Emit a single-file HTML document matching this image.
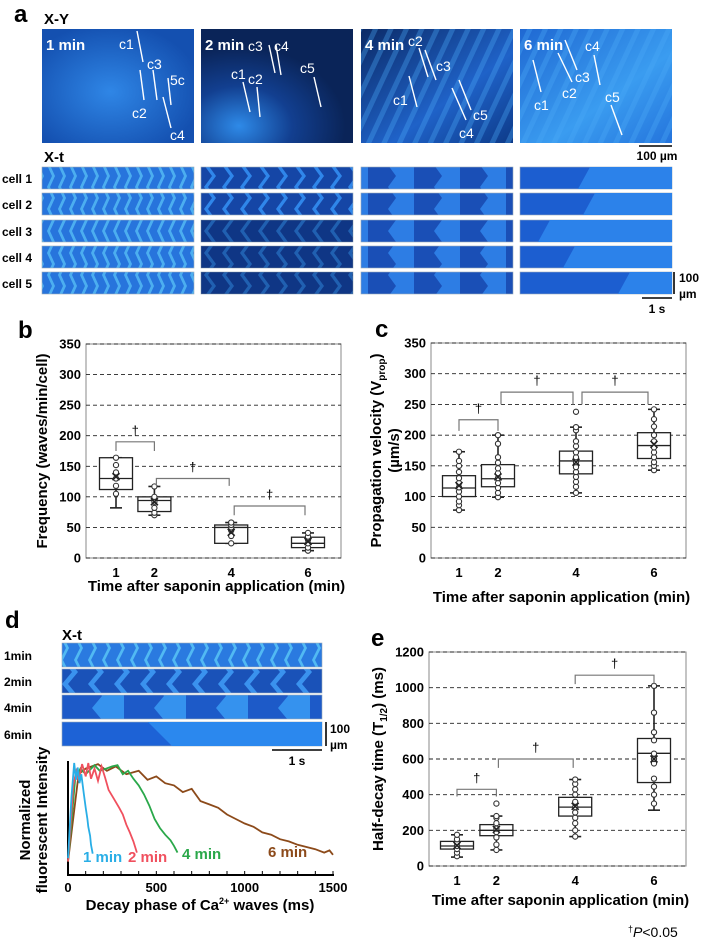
<!DOCTYPE html>
<html><head><meta charset="utf-8">
<style>
html,body{margin:0;padding:0;background:#fff;}
body{width:704px;height:944px;overflow:hidden;font-family:"Liberation Sans",Arial,sans-serif;}
svg text{font-family:"Liberation Sans",Arial,sans-serif;}
</style></head>
<body>
<svg id="fig" width="704" height="944" viewBox="0 0 704 944" xmlns="http://www.w3.org/2000/svg">
<defs>
  <radialGradient id="g1" cx="0.45" cy="0.55" r="0.6"><stop offset="0" stop-color="#2f86e6"/><stop offset="1" stop-color="#1450b0"/></radialGradient>
  <radialGradient id="g2" cx="0.25" cy="0.85" r="0.7"><stop offset="0" stop-color="#2e8ae8"/><stop offset="0.5" stop-color="#123f90"/><stop offset="1" stop-color="#0a2458"/></radialGradient>
  <linearGradient id="g3" x1="0" y1="0" x2="1" y2="1"><stop offset="0" stop-color="#0b2a66"/><stop offset="0.6" stop-color="#1f62c8"/><stop offset="1" stop-color="#0d3a88"/></linearGradient>
  <linearGradient id="g4" x1="0" y1="0" x2="1" y2="1"><stop offset="0" stop-color="#1f68d2"/><stop offset="0.6" stop-color="#3a9cf0"/><stop offset="1" stop-color="#2474dc"/></linearGradient>
  <pattern id="streak" width="14" height="14" patternUnits="userSpaceOnUse" patternTransform="rotate(25)"><rect width="14" height="14" fill="none"/><rect width="5" height="14" fill="#4aa8f5" opacity="0.35"/></pattern>
  <pattern id="xt1" width="11" height="22" patternUnits="userSpaceOnUse"><rect width="11" height="22" fill="#2774dc"/><path d="M8 0 L3 11 L8 22 L11 22 L6 11 L11 0Z" fill="#55bdf5" opacity="0.8"/></pattern>
  <pattern id="xt2" width="18" height="22" patternUnits="userSpaceOnUse"><rect width="18" height="22" fill="#1546a6"/><path d="M14 0 L6 11 L14 22 L18 22 L10 11 L18 0Z" fill="#2f86ea"/></pattern>
  <pattern id="xt3" width="46" height="22" patternUnits="userSpaceOnUse"><rect width="46" height="22" fill="#1a4fb6"/><path d="M28 0 L20 11 L28 22 L46 22 L46 0Z" fill="#2d7de4"/></pattern>
  <pattern id="xt1d" width="14" height="24" patternUnits="userSpaceOnUse"><rect width="14" height="24" fill="#2a7ae0"/><path d="M10 0 L4 12 L10 24 L13 24 L7 12 L13 0Z" fill="#58c4f7" opacity="0.85"/></pattern>
  <pattern id="xt2d" width="26" height="24" patternUnits="userSpaceOnUse"><rect width="26" height="24" fill="#1a52b8"/><path d="M20 0 L10 12 L20 24 L26 24 L16 12 L26 0Z" fill="#3a92ee"/></pattern>
  <pattern id="xt3d" width="62" height="24" patternUnits="userSpaceOnUse"><rect width="62" height="24" fill="#1d5ac8"/><path d="M40 0 L30 12 L40 24 L62 24 L62 0Z" fill="#3592ee"/></pattern>
</defs>
<g id="panelA"></g>
<g id="panelB"></g>
<g id="panelC"></g>
<g id="panelD"></g>
<g id="panelE"></g>
</svg>
<script>
// ---------- data ----------
const minutes = [1, 2, 4, 6];
// panel b: frequency (waves/min/cell)
const bQ1 = [112, 76, 24, 17];
const bMed = [130, 94, 50, 24];
const bQ3 = [164, 100, 54, 34];
const bLo = [82, 70, 24, 12];
const bHi = [164, 117, 58, 41];
const bMean = [133, 92, 42, 27];
const bPts = [[105, 118, 130, 140, 152, 164], [70, 74, 82, 92, 100, 117], [24, 36, 45, 50, 54, 58], [12, 17, 24, 30, 35, 41]];
const bTicks = [0, 50, 100, 150, 200, 250, 300, 350];
// panel c: propagation velocity (um/s)
const cQ1 = [100, 116, 137, 162];
const cMed = [114, 129, 158, 183];
const cQ3 = [134, 152, 174, 204];
const cLo = [78, 99, 106, 143];
const cHi = [173, 200, 213, 242];
const cMean = [118, 132, 156, 185];
const cPts = [[78, 86, 92, 100, 108, 115, 122, 130, 140, 150, 158, 173], [99, 106, 114, 122, 130, 138, 146, 155, 164, 186, 200], [106, 116, 124, 132, 140, 148, 156, 164, 172, 182, 190, 208, 213, 238], [143, 150, 156, 164, 172, 180, 190, 200, 214, 226, 242]];
const cTicks = [0, 50, 100, 150, 200, 250, 300, 350];
// panel e: half-decay time (ms)
const eQ1 = [95, 170, 280, 468];
const eMed = [112, 200, 330, 632];
const eQ3 = [138, 232, 385, 715];
const eLo = [50, 90, 165, 313];
const eHi = [175, 280, 485, 1010];
const eMean = [115, 205, 335, 600];
const ePts = [[55, 75, 95, 112, 130, 150, 175], [90, 120, 160, 190, 210, 240, 270, 280, 350], [165, 200, 240, 270, 300, 330, 360, 400, 430, 460, 485], [350, 400, 445, 490, 575, 600, 630, 705, 750, 860, 1010]];
const eTicks = [0, 200, 400, 600, 800, 1000, 1200];
// panel d: decay curves (ms, normalized intensity)
const dT1 = [0, 20, 35, 45, 55, 65, 75, 90, 100, 110, 115, 125, 130, 140];
const dV1 = [0.15, 0.7, 1.0, 0.85, 0.96, 0.82, 0.9, 0.72, 0.6, 0.5, 0.43, 0.35, 0.27, 0.19];
const dT2 = [0, 30, 50, 60, 80, 100, 115, 130, 150, 170, 190, 210, 230, 260, 290, 310, 330, 350, 370, 390];
const dV2 = [0.12, 0.8, 0.95, 0.84, 0.99, 0.88, 1.0, 0.86, 0.95, 0.84, 0.97, 0.87, 0.76, 0.68, 0.6, 0.54, 0.45, 0.38, 0.3, 0.2];
const dT3 = [0, 40, 70, 100, 150, 180, 200, 250, 280, 310, 340, 370, 400, 430, 460, 490, 520, 550, 580, 600, 620];
const dV3 = [0.12, 0.85, 0.95, 0.9, 0.98, 0.93, 0.94, 0.97, 0.98, 0.9, 0.93, 0.86, 0.8, 0.72, 0.62, 0.5, 0.42, 0.36, 0.31, 0.26, 0.2];
const dT4 = [0, 60, 100, 170, 220, 270, 330, 400, 450, 500, 550, 600, 650, 700, 750, 800, 850, 900, 950, 1000, 1050, 1100, 1150, 1200, 1250, 1300, 1350, 1400, 1450, 1480, 1500];
const dV4 = [0.12, 0.9, 0.95, 0.99, 0.93, 0.97, 0.9, 0.93, 0.85, 0.88, 0.82, 0.8, 0.74, 0.77, 0.66, 0.63, 0.6, 0.54, 0.5, 0.46, 0.43, 0.38, 0.36, 0.32, 0.3, 0.27, 0.25, 0.23, 0.2, 0.22, 0.18];
const dXTicks = [0, 500, 1000, 1500];

const NS = 'http://www.w3.org/2000/svg';
function mk(parent, tag, attrs, txt) {
  const e = document.createElementNS(NS, tag);
  for (const k in attrs) e.setAttribute(k, attrs[k]);
  if (txt !== undefined) e.textContent = txt;
  parent.appendChild(e);
  return e;
}

// ---------- panel a ----------
const A = document.getElementById('panelA');
let t = mk(A, 'text', {x: 14, y: 22, 'font-size': 24, 'font-weight': 'bold'}, 'a');


t = mk(A, 'text', {x: 44, y: 24, 'font-size': 15, 'font-weight': 'bold'}, 'X-Y');


t = mk(A, 'text', {x: 44, y: 162, 'font-size': 15, 'font-weight': 'bold'}, 'X-t');


const colX = [42, 201, 361, 520];
const colW = 152;
const xyFills = ['url(#g1)', 'url(#g2)', 'url(#g3)', 'url(#g4)'];
const xyTimes = ['1 min', '2 min', '4 min', '6 min'];
for (let i = 0; i < 4; i++) {
  const r = mk(A, 'rect', {x: colX[i], y: 29, width: colW, height: 114, fill: xyFills[i]});
  
  
  if (i >= 2) mk(A, 'rect', {x: colX[i], y: 29, width: colW, height: 114, fill: 'url(#streak)'});
  const tt = mk(A, 'text', {x: colX[i] + 4, y: 50, 'font-size': 15, 'font-weight': 'bold', fill: '#fff'}, xyTimes[i]);
  
  
}
const cellLines = [
  [137,31,143,62],[140,70,144,100],[153,70,157,100],[168,78,171,105],[163,97,171,128],
  [269,45,275,73],[276,45,281,75],[314,77,321,107],[243,82,250,112],[257,87,260,117],
  [419,48,428,77],[425,50,436,80],[409,76,417,107],[459,80,471,110],[452,88,466,120],
  [594,55,600,85],[565,40,577,70],[558,53,572,82],[533,60,541,92],[611,105,622,135]
];
cellLines.forEach(l => { mk(A, 'line', {x1: l[0], y1: l[1], x2: l[2], y2: l[3], stroke: '#fff', 'stroke-width': 1.4}); });
const cellLabels = [
  [119,49,'c1'],[147,69,'c3'],[170,85,'5c'],[132,118,'c2'],[170,140,'c4'],
  [248,51,'c3'],[274,51,'c4'],[300,73,'c5'],[231,79,'c1'],[248,84,'c2'],
  [408,46,'c2'],[436,71,'c3'],[393,105,'c1'],[473,120,'c5'],[459,138,'c4'],
  [585,51,'c4'],[575,82,'c3'],[562,98,'c2'],[534,110,'c1'],[605,102,'c5']
];
cellLabels.forEach(c => { mk(A, 'text', {x: c[0], y: c[1], 'font-size': 14, fill: '#fff'}, c[2]); });
// scale bar 100 um
mk(A, 'line', {x1: 639, y1: 146, x2: 672, y2: 146, stroke: '#000', 'stroke-width': 1.6});
t = mk(A, 'text', {x: 657, y: 160, 'font-size': 12, 'font-weight': 'bold', 'text-anchor': 'middle'}, '100 µm');


// X-t strips
const rowY = [167, 193, 220, 246, 272];
const xtFill = ['url(#xt1)', 'url(#xt2)', 'url(#xt3)'];
for (let r = 0; r < 5; r++) {
  const lab = mk(A, 'text', {x: 2, y: rowY[r] + 16, 'font-size': 12, 'font-weight': 'bold'}, 'cell ' + (r + 1));
  
  
  for (let c = 0; c < 4; c++) {
    const g = mk(A, 'g', {});
    
    
    if (c < 3) {
      mk(g, 'rect', {x: colX[c], y: rowY[r], width: colW, height: 22, fill: xtFill[c], stroke: '#9ab', 'stroke-width': 0.6});
      if (c === 1 && r >= 2) mk(g, 'rect', {x: colX[c], y: rowY[r], width: colW, height: 22, fill: '#061a48', opacity: 0.35});
    } else {
      mk(g, 'rect', {x: colX[c], y: rowY[r], width: colW, height: 22, fill: '#1c5ed0', stroke: '#9ab', 'stroke-width': 0.6});
      const sx = colX[c] + [70, 75, 30, 55, 110][r];
      mk(g, 'path', {d: `M${sx} ${rowY[r]} L${sx - 12} ${rowY[r] + 22} L${colX[c] + colW} ${rowY[r] + 22} L${colX[c] + colW} ${rowY[r]}Z`, fill: '#2c82ea'});
    }
  }
}
mk(A, 'line', {x1: 674, y1: 272, x2: 674, y2: 294, stroke: '#000', 'stroke-width': 1.6});
mk(A, 'text', {x: 679, y: 282, 'font-size': 12, 'font-weight': 'bold'}, '100');
mk(A, 'text', {x: 679, y: 298, 'font-size': 12, 'font-weight': 'bold'}, 'µm');
mk(A, 'line', {x1: 642, y1: 298, x2: 672, y2: 298, stroke: '#000', 'stroke-width': 1.6});
mk(A, 'text', {x: 657, y: 313, 'font-size': 12, 'font-weight': 'bold', 'text-anchor': 'middle'}, '1 s');

// ---------- box charts ----------
function boxChart(G, cfg) {
  const {left, right, top, bottom, vmax, ticks, x1, x6, q1, med, q3, lo, hi, mean, pts, brackets, letter, letterX, ytitle, ytitleX, xtitleY} = cfg;
  const ys = v => bottom - (v / vmax) * (bottom - top);
  const xs = m => x1 + (m - 1) * (x6 - x1) / 5;
  const frame = mk(G, 'rect', {x: left, y: top, width: right - left, height: bottom - top, fill: 'none', stroke: '#888', 'stroke-width': 1});
  
  
  ticks.forEach(v => {
    const gl = mk(G, 'line', {x1: left, x2: right, y1: ys(v), y2: ys(v), stroke: '#222', 'stroke-width': 0.9, 'stroke-dasharray': '4,3'});
    
    
    const tl = mk(G, 'text', {x: left - 5, y: ys(v) + 4.5, 'font-size': 13, 'font-weight': 'bold', 'text-anchor': 'end'}, String(v));
    
    
  });
  minutes.forEach((m, i) => {
    const tl = mk(G, 'text', {x: xs(m), y: bottom + 19, 'font-size': 13, 'font-weight': 'bold', 'text-anchor': 'middle'}, String(m));
    
    
    const cx = xs(m), hw = 16.5;
    const bg = mk(G, 'g', {});
    
    
    mk(bg, 'line', {x1: cx, x2: cx, y1: ys(lo[i]), y2: ys(hi[i]), stroke: '#222', 'stroke-width': 1.6});
    mk(bg, 'line', {x1: cx - 6, x2: cx + 6, y1: ys(lo[i]), y2: ys(lo[i]), stroke: '#222', 'stroke-width': 1.6});
    mk(bg, 'line', {x1: cx - 6, x2: cx + 6, y1: ys(hi[i]), y2: ys(hi[i]), stroke: '#222', 'stroke-width': 1.6});
    mk(bg, 'rect', {x: cx - hw, y: ys(q3[i]), width: 2 * hw, height: ys(q1[i]) - ys(q3[i]), fill: '#fff', stroke: '#222', 'stroke-width': 1.3});
    mk(bg, 'line', {x1: cx - hw, x2: cx + hw, y1: ys(med[i]), y2: ys(med[i]), stroke: '#222', 'stroke-width': 1.3});
    pts[i].forEach(p => {
      const c = mk(bg, 'circle', {cx: cx, cy: ys(p), r: 2.6, fill: '#fff', stroke: '#333', 'stroke-width': 1.1});
      
      
    });
    const my = ys(mean[i]);
    mk(bg, 'path', {d: `M${cx - 3.5} ${my - 3.5} L${cx + 3.5} ${my + 3.5} M${cx + 3.5} ${my - 3.5} L${cx - 3.5} ${my + 3.5}`, stroke: '#222', 'stroke-width': 1.6});
  });
  brackets.forEach(b => {
    const xa = xs(b[0]) + b[4], xb = xs(b[1]) - b[4];
    const br = mk(G, 'path', {d: `M${xa} ${ys(b[3])} L${xa} ${ys(b[2])} L${xb} ${ys(b[2])} L${xb} ${ys(b[3])}`, fill: 'none', stroke: '#777', 'stroke-width': 1.2});
    
    
    const dg = mk(G, 'text', {x: (xa + xb) / 2, y: ys(b[2]) - 7, 'font-size': 13, 'text-anchor': 'middle'}, '†');
    
    
  });
  const L = mk(G, 'text', {x: letterX, y: top - 6, 'font-size': 24, 'font-weight': 'bold'}, letter);
  
  
  const xt = mk(G, 'text', {x: (left + right) / 2 + 3, y: xtitleY, 'font-size': 15, 'font-weight': 'bold', 'text-anchor': 'middle'}, 'Time after saponin application (min)');
  
  
  const cy = (top + bottom) / 2;
  ytitle.forEach((line, k) => {
    const yt = mk(G, 'text', {x: ytitleX[k], y: cy, 'font-size': 15, 'font-weight': 'bold', 'text-anchor': 'middle', transform: `rotate(-90 ${ytitleX[k]} ${cy})`});
    yt.innerHTML = line;
    
    
  });
}
boxChart(document.getElementById('panelB'), {left: 86, right: 341, top: 344, bottom: 558, vmax: 350, ticks: bTicks, x1: 116, x6: 308,
  q1: bQ1, med: bMed, q3: bQ3, lo: bLo, hi: bHi, mean: bMean, pts: bPts,
  brackets: [[1, 2, 190, 175, 0], [2, 4, 130, 118, 2], [4, 6, 85, 70, 3]],
  letter: 'b', letterX: 18, ytitle: ['Frequency (waves/min/cell)'], ytitleX: [47], xtitleY: 591});
boxChart(document.getElementById('panelC'), {left: 431, right: 686, top: 343, bottom: 558, vmax: 350, ticks: cTicks, x1: 459, x6: 654,
  q1: cQ1, med: cMed, q3: cQ3, lo: cLo, hi: cHi, mean: cMean, pts: cPts,
  brackets: [[1, 2, 225, 207, 0], [2, 4, 270, 250, 3], [4, 6, 270, 250, 6]],
  letter: 'c', letterX: 375, ytitle: ['Propagation velocity (V<tspan font-size="10" dy="4">prop</tspan><tspan dy="-4">)</tspan>', '(µm/s)'], ytitleX: [381, 399], xtitleY: 602});
boxChart(document.getElementById('panelE'), {left: 429, right: 686, top: 652, bottom: 866, vmax: 1200, ticks: eTicks, x1: 457, x6: 654,
  q1: eQ1, med: eMed, q3: eQ3, lo: eLo, hi: eHi, mean: eMean, pts: ePts,
  brackets: [[1, 2, 430, 390, 0], [2, 4, 600, 550, 2], [4, 6, 1070, 1020, 0]],
  letter: 'e', letterX: 371, ytitle: ['Half-decay time (T<tspan font-size="10" dy="4">1/2</tspan><tspan dy="-4">) (ms)</tspan>'], ytitleX: [383], xtitleY: 905});
const pn = mk(document.getElementById('panelE'), 'text', {x: 628, y: 937, 'font-size': 14});
pn.innerHTML = '<tspan font-size="9" dy="-5">†</tspan><tspan dy="5" font-style="italic">P</tspan>&lt;0.05';



// ---------- panel d ----------
const D = document.getElementById('panelD');
t = mk(D, 'text', {x: 5, y: 628, 'font-size': 24, 'font-weight': 'bold'}, 'd');


mk(D, 'text', {x: 62, y: 640, 'font-size': 15, 'font-weight': 'bold'}, 'X-t');
const dRowY = [643, 669, 695, 722];
const dFill = ['url(#xt1d)', 'url(#xt2d)', 'url(#xt3d)'];
const dLab = ['1min', '2min', '4min', '6min'];
for (let r = 0; r < 4; r++) {
  const lb = mk(D, 'text', {x: 4, y: dRowY[r] + 17, 'font-size': 12, 'font-weight': 'bold'}, dLab[r]);
  
  
  const g = mk(D, 'g', {});
  
  
  if (r < 3) mk(g, 'rect', {x: 62, y: dRowY[r], width: 260, height: 24, fill: dFill[r], stroke: '#9ab', 'stroke-width': 0.6});
  else {
    mk(g, 'rect', {x: 62, y: dRowY[r], width: 260, height: 24, fill: '#1d62d6', stroke: '#9ab', 'stroke-width': 0.6});
    mk(g, 'path', {d: `M148 ${dRowY[r]} L172 ${dRowY[r] + 24} L322 ${dRowY[r] + 24} L322 ${dRowY[r]}Z`, fill: '#2b88ee'});
  }
}
mk(D, 'line', {x1: 326, y1: 722, x2: 326, y2: 746, stroke: '#000', 'stroke-width': 1.6});
mk(D, 'text', {x: 330, y: 733, 'font-size': 12, 'font-weight': 'bold'}, '100');
mk(D, 'text', {x: 330, y: 749, 'font-size': 12, 'font-weight': 'bold'}, 'µm');
mk(D, 'line', {x1: 272, y1: 750, x2: 322, y2: 750, stroke: '#000', 'stroke-width': 1.6});
mk(D, 'text', {x: 297, y: 765, 'font-size': 12, 'font-weight': 'bold', 'text-anchor': 'middle'}, '1 s');
// line chart axes
const dx = v => 68 + v * (333 - 68) / 1500;
const dy = v => 875 - v * (875 - 763);
const ax = mk(D, 'path', {d: 'M68 761 L68 875 L334 875', fill: 'none', stroke: '#000', 'stroke-width': 2});


for (let v = 100; v <= 1500; v += 100) mk(D, 'line', {x1: dx(v), x2: dx(v), y1: 875, y2: 871, stroke: '#000', 'stroke-width': 1});
dXTicks.forEach(v => {
  const tl = mk(D, 'text', {x: dx(v), y: 892, 'font-size': 13, 'font-weight': 'bold', 'text-anchor': 'middle'}, String(v));
  
  
});
t = mk(D, 'text', {x: 200, y: 910, 'font-size': 15, 'font-weight': 'bold', 'text-anchor': 'middle'});
t.innerHTML = 'Decay phase of Ca<tspan font-size="9" dy="-6">2+</tspan><tspan dy="6"> waves (ms)</tspan>';


[['Normalized', 30], ['fluorescent Intensity', 47]].forEach(p => {
  const yt = mk(D, 'text', {x: p[1], y: 820, 'font-size': 15, 'font-weight': 'bold', 'text-anchor': 'middle', transform: `rotate(-90 ${p[1]} 820)`}, p[0]);
  
  
});
const series = [[dT4, dV4, '#8c4a1a', '6 min', 268, 857], [dT3, dV3, '#2aa84a', '4 min', 182, 859], [dT2, dV2, '#f0505e', '2 min', 128, 862], [dT1, dV1, '#29aee6', '1 min', 83, 862]];
series.forEach(s => {
  const d = s[0].map((tt, k) => (k ? 'L' : 'M') + dx(tt).toFixed(1) + ' ' + dy(s[1][k]).toFixed(1)).join(' ');
  const p = mk(D, 'path', {d: d, fill: 'none', stroke: s[2], 'stroke-width': 1.8});
  
  
  const l = mk(D, 'text', {x: s[4], y: s[5], 'font-size': 15, 'font-weight': 'bold', fill: s[2]}, s[3]);
  
  
});
</script>
</body></html>
